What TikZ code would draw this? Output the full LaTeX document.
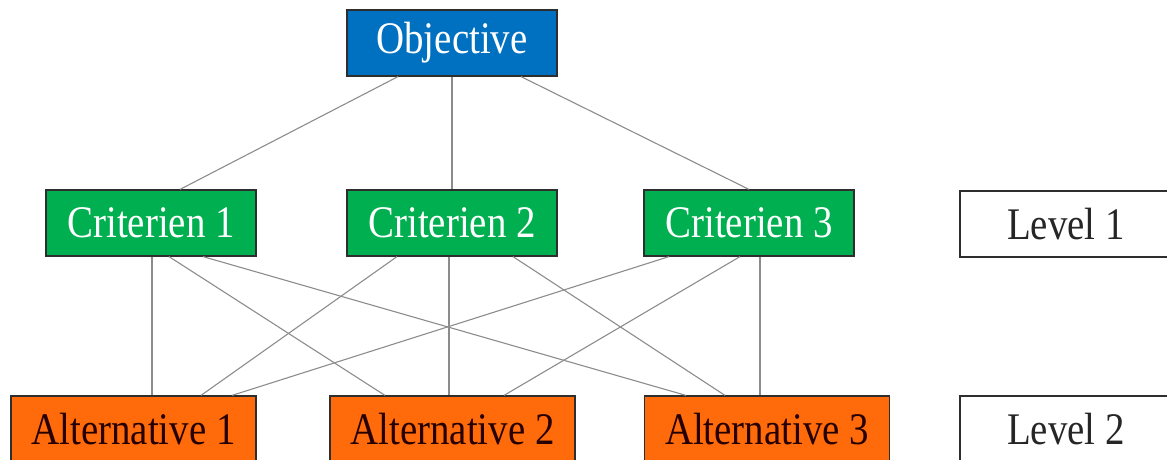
\documentclass[tikz,border=0pt]{standalone}
\usepackage{fontspec}
\setmainfont[FakeStretch=0.86]{Liberation Serif}
\usepackage{xcolor}
\usetikzlibrary{positioning,calc}
\definecolor{goalblue}{HTML}{0070C0}
\definecolor{critgreen}{HTML}{00B050}
\definecolor{altorange}{HTML}{FF6A0A}
\definecolor{edgegray}{HTML}{8C8C8C}
\definecolor{framegray}{HTML}{2E2E2E}
\tikzset{
  tier/.style={draw=framegray, line width=0.6pt, inner sep=0pt, minimum height=33pt, font=\fontsize{22.6pt}{26pt}\selectfont},
  goalbox/.style={tier, fill=goalblue, text=white, minimum width=105pt},
  critbox/.style={tier, fill=critgreen, text=white, minimum width=105pt},
  altbox/.style={tier, fill=altorange, text=black!85!red, minimum width=122.5pt},
  levelbox/.style={tier, fill=white, text=black!85, minimum width=106pt},
  link/.style={draw=edgegray, line width=0.55pt}
}

\begin{document}
\begin{tikzpicture}[x=0.5pt, y=-0.5pt]
  \useasboundingbox (0,0) rectangle (1167,460);

  \node[goalbox] (goal) at (452,43) {Objective};
  \node[critbox] (crit1) at (151,223) {Criterien 1};
  \node[critbox] (crit2) at (452,223) {Criterien 2};
  \node[critbox] (crit3) at (749,223) {Criterien 3};
  \node[levelbox] (lvl1) at (1066,224) {Level 1};
  \node[altbox] (alt1) at (133.5,429) {Alternative 1};
  \node[altbox] (alt2) at (452.5,429) {Alternative 2};
  \node[altbox] (alt3) at (767,429) {Alternative 3};
  \node[levelbox] (lvl2) at (1066,429) {Level 2};

  % objective to criteria
  \draw[link] ([xshift=-27pt]goal.south) -- ([xshift=14.5pt]crit1.north);
  \draw[link] (goal.south) -- (crit2.north);
  \draw[link] ([xshift=34.5pt]goal.south) -- (crit3.north);

  % criteria to alternatives
  \draw[link] ([xshift=0.5pt]crit1.south) -- ([xshift=0.5pt]crit1.south |- alt1.north);
  \draw[link] ([xshift=9pt]crit1.south) -- ([xshift=-33.75pt]alt2.north);
  \draw[link] ([xshift=26pt]crit1.south) -- ([xshift=-40.5pt]alt3.north);
  \draw[link] ([xshift=-27.5pt]crit2.south) -- ([xshift=33.75pt]alt1.north);
  \draw[link] ([xshift=-1.5pt]crit2.south) -- ([xshift=-1.5pt]crit2.south |- alt2.north);
  \draw[link] ([xshift=30.5pt]crit2.south) -- ([xshift=-21pt]alt3.north);
  \draw[link] ([xshift=-40pt]crit3.south) -- ([xshift=49.25pt]alt1.north);
  \draw[link] ([xshift=-4.5pt]crit3.south) -- ([xshift=25.75pt]alt2.north);
  \draw[link] ([xshift=5.5pt]crit3.south) -- ([xshift=5.5pt]crit3.south |- alt3.north);
\end{tikzpicture}
\end{document}
